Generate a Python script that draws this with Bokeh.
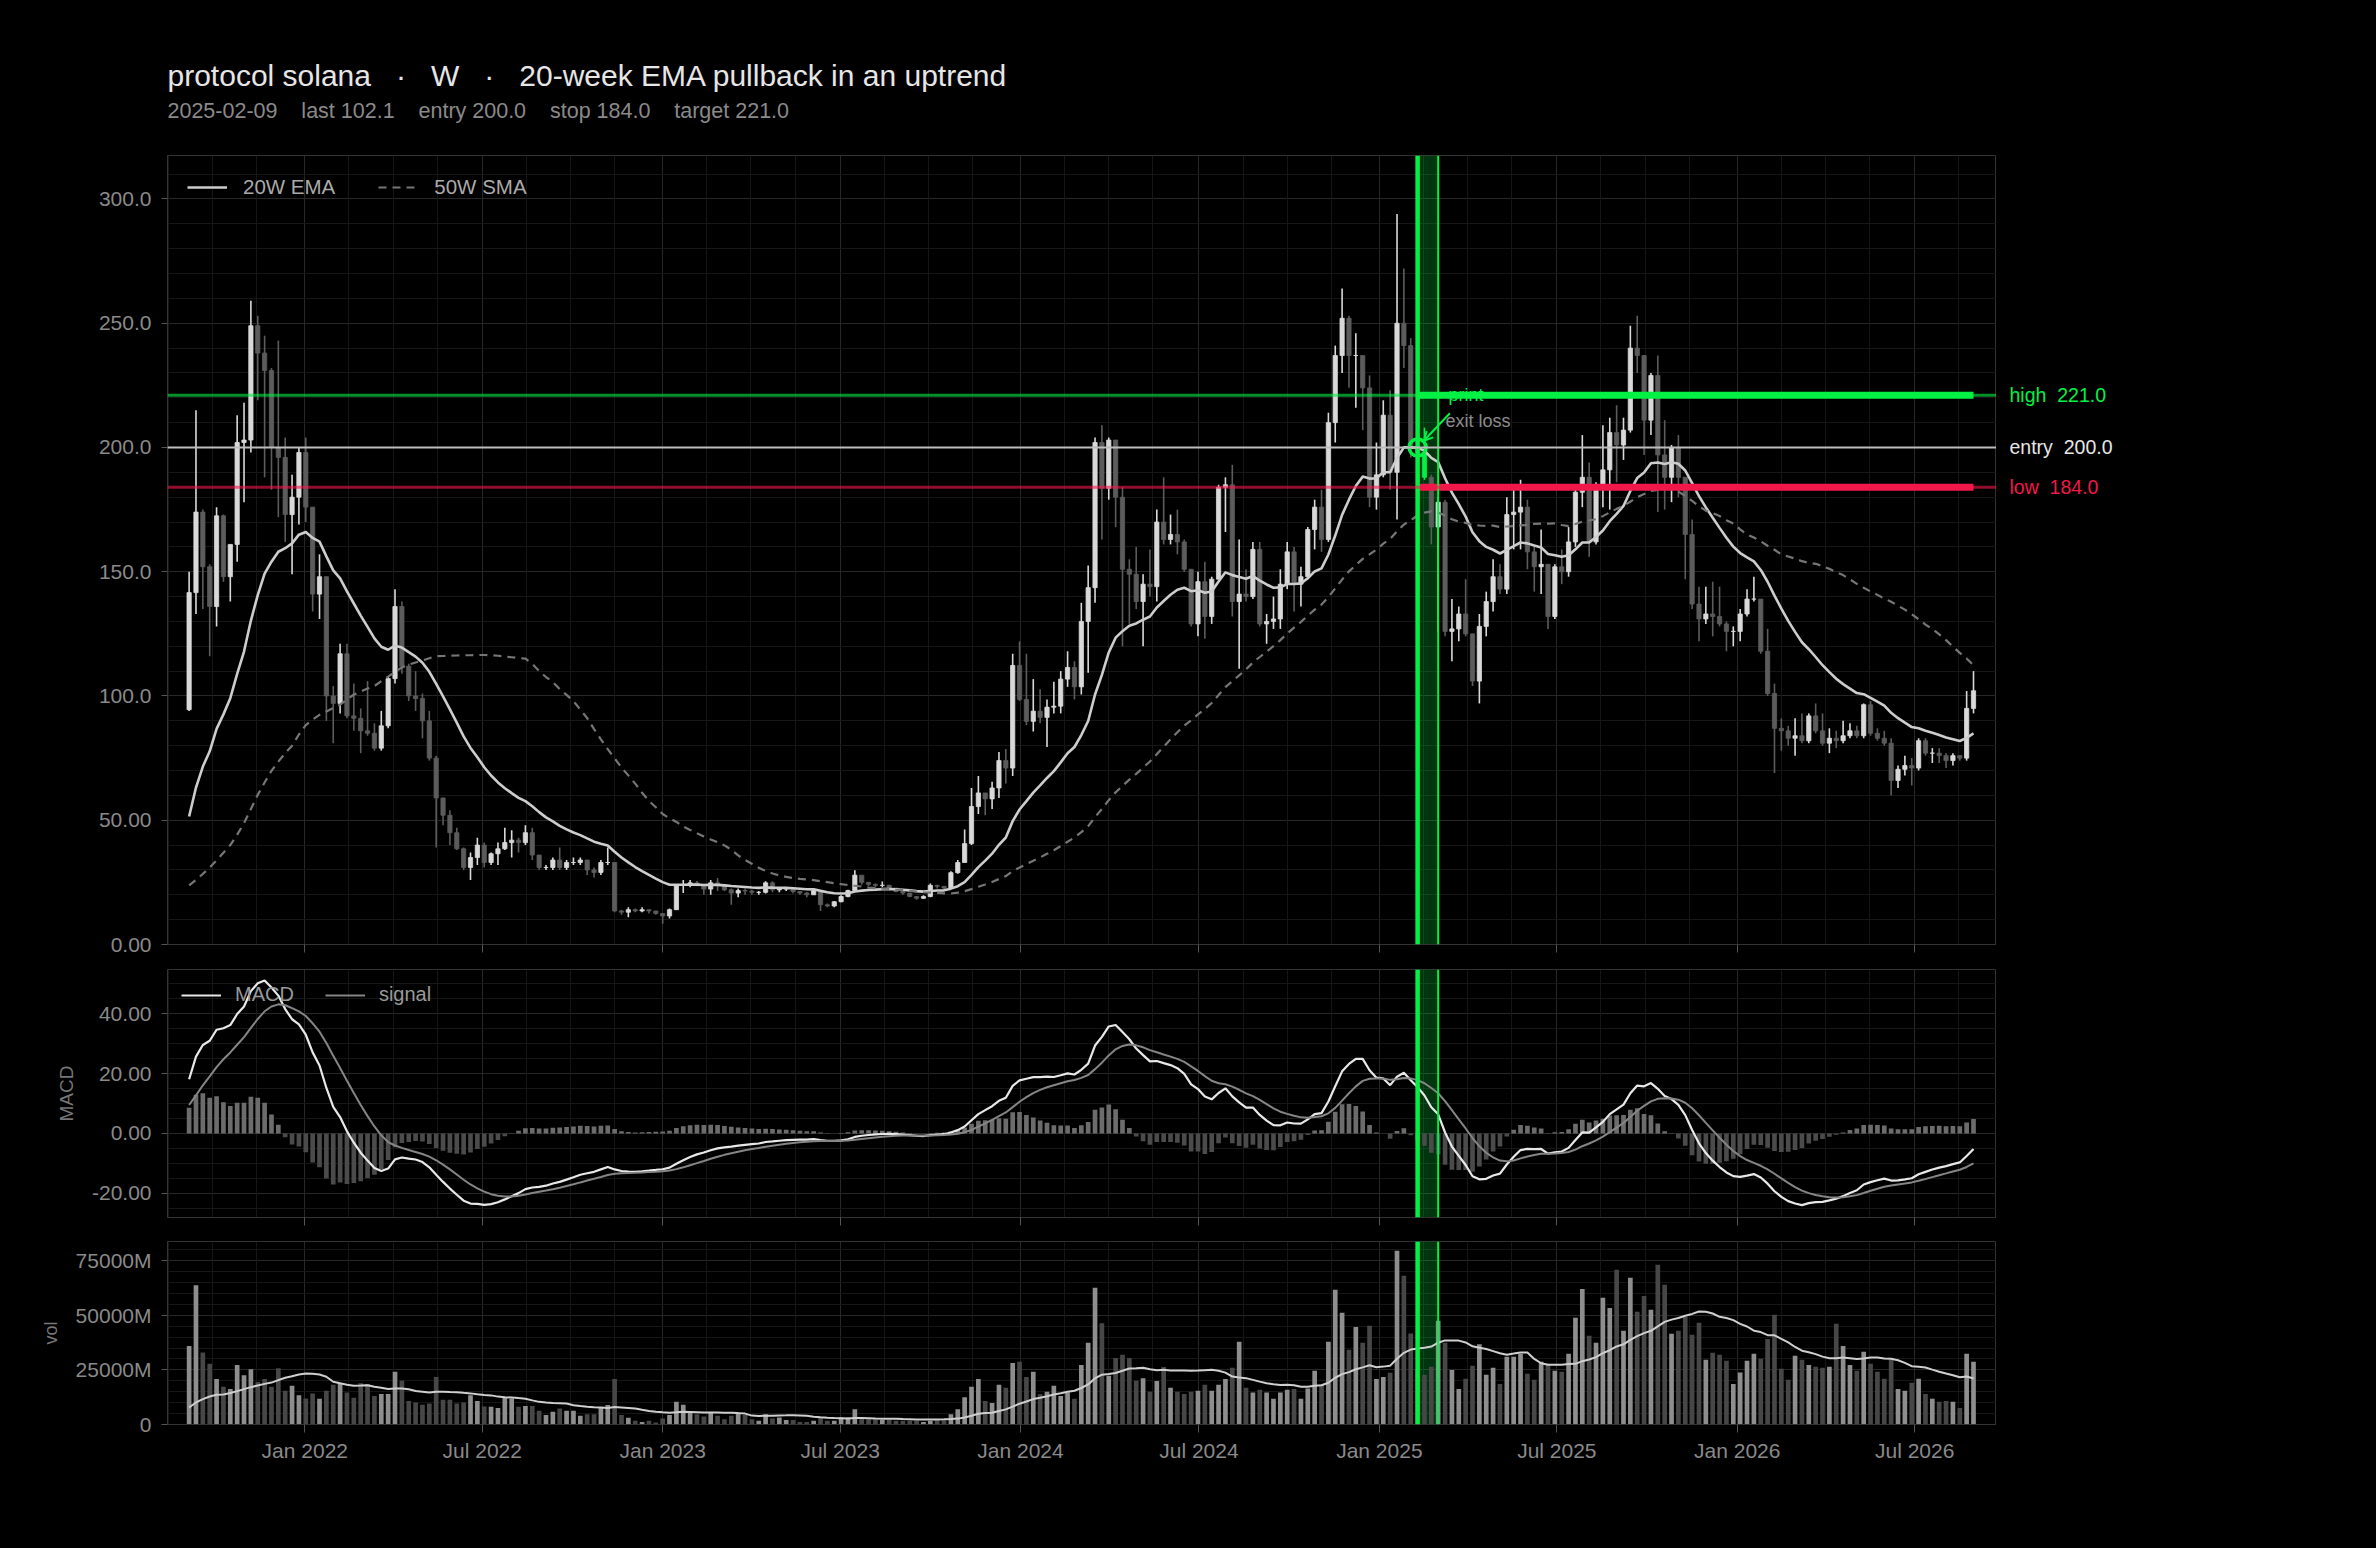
import numpy as np
import pandas as pd
from bokeh.plotting import figure
from bokeh.layouts import column, row
from bokeh.models import (Range1d, SingleIntervalTicker, MonthsTicker, DatetimeTickFormatter,
                          CustomJSTickFormatter, BoxAnnotation, Span, Label, Legend, LegendItem,
                          Arrow, OpenHead, GlobalInlineStyleSheet, Grid, FixedTicker)
from bokeh.core.properties import value
from bokeh.embed import file_html
from bokeh.resources import INLINE

# ---------------- data ----------------
week_start = "2021-09-05"
first_open = 94.5

close = [141.6, 174, 152, 136, 172.5, 148, 161, 202, 203, 249,
         238, 231, 200, 196, 173, 180, 198, 176, 141, 148,
         100, 97, 117, 92, 91, 86, 85, 79, 88, 107,
         136, 112, 100, 99, 90, 75, 59, 52, 45, 38.5,
         31, 35, 40, 33, 36.5, 38.5, 41, 42, 41, 45,
         36, 31, 31, 34, 31, 33, 33, 34, 30, 29,
         33, 33, 13.5, 13, 14, 13.5, 14, 13.5, 12.5, 11.5,
         14, 23.8, 24, 24.8, 24, 22.3, 24.8, 24, 22, 20.7,
         21.7, 21.5, 21, 21, 24.8, 22, 22.3, 22.5, 21.3, 20.7,
         20, 21.7, 16, 15.5, 17.2, 19.3, 21.7, 27.9, 25, 24.2,
         23.8, 23.8, 22.7, 21.3, 20.7, 19.3, 18.6, 19.3, 23.8, 23.4,
         22.7, 28.9, 33, 40.6, 55.5, 61, 58.6, 63, 74, 71,
         112.3, 98.6, 89.8, 93.9, 91.4, 95.5, 95.9, 106.8, 111.5, 103.7,
         130, 143.6, 202, 183.6, 203, 180, 151, 149, 138, 145,
         144, 170, 163, 165, 162, 151, 129, 146, 132, 147,
         184, 185, 138, 141, 140, 159, 129, 130, 131, 145,
         158, 145, 148, 167, 176, 163, 210, 237, 252, 237,
         237, 224, 180, 189, 213, 190, 250, 241, 200, 198,
         188, 168, 178, 126, 127, 133, 125, 106, 128, 138,
         148, 143, 173, 174, 176, 158, 152, 153, 132, 152,
         150, 162, 182, 188, 162, 185, 191, 206, 201, 207,
         240, 237, 211, 229, 197, 188, 200, 188, 165, 137,
         131, 133, 132, 129, 126, 126, 133, 139, 139, 118,
         101, 87, 86, 83, 84, 82, 92, 86, 81, 83,
         82, 84, 86, 84, 96.5, 85, 83, 81, 66, 70.5,
         72, 71, 82, 77, 77, 76, 74, 76, 75, 95,
         102.1]

high = [150, 215, 175, 153, 176, 173, 161, 213, 218, 259,
        253, 245, 232, 243, 204, 189, 200, 204, 176, 157,
        148, 104, 121, 121, 105, 95, 106, 89, 94, 108,
        143, 138, 113, 110, 101, 94, 76, 58, 54, 47,
        39, 37, 43, 41, 37, 41, 47, 46, 43, 48,
        47, 36, 32, 35, 39, 34, 35, 35, 33, 31,
        34, 39, 33, 14, 15, 14.5, 15, 14, 13.5, 12.5,
        14.5, 24.2, 26, 26, 25.6, 24, 26, 26.8, 24, 22.5,
        22.5, 22.5, 22, 21.5, 25.5, 25.5, 23, 23, 22.5, 21.5,
        21, 22.5, 21.5, 16.5, 17.5, 19.8, 22, 29.9, 27, 25,
        24.5, 25.4, 24, 22.5, 21.5, 20.5, 19.5, 19.8, 24.5, 24,
        23.5, 29.5, 34, 46.3, 63, 67.8, 61, 65.5, 77.5, 78.7,
        117, 122, 117, 106.8, 102.7, 98.6, 105.7, 110, 118, 114,
        137.5, 152.5, 204, 209, 204, 203, 184, 155, 160, 149,
        159, 175, 188, 173, 175, 163, 151, 150, 154, 148,
        185, 188, 193, 163, 151, 162, 162, 133, 140, 151,
        162, 160, 152, 168, 179, 183, 214, 241, 264, 253,
        246, 237, 229, 202, 219, 223, 294, 272, 244, 205,
        208, 189, 180, 179, 139, 136, 147, 125, 133, 142,
        155, 153, 180, 183, 187, 179, 160, 167, 153, 153,
        159, 168, 184, 205, 194, 186, 209, 212, 217, 212,
        249, 253, 237, 230, 237, 211, 201, 205, 188, 171,
        144, 144, 146, 144, 130, 128, 135, 143, 148, 138,
        127, 105, 91, 88, 91, 93, 93, 97, 93, 87,
        86, 90, 89, 88, 97, 98, 87, 86, 83, 72,
        76, 75, 83, 83, 79, 79, 77, 77, 76, 102,
        110]

low = [94, 133, 135, 116, 128, 146, 138, 154, 178, 198,
       219, 188, 183, 172, 162, 149, 169, 170, 134, 131,
       90, 81, 93, 91, 86, 77, 84, 78, 78, 87,
       105, 109, 98, 94, 83, 74, 39, 48, 40, 38,
       30, 26, 32, 31, 32, 32, 38, 35, 37, 40,
       34, 30, 30, 30, 30, 30, 32, 32, 28, 27,
       28, 32, 13, 12, 11, 13, 13, 12.5, 12, 8.4,
       10.5, 14, 20.7, 23, 23.4, 20, 20, 21.5, 21.5, 16,
       19, 20, 20, 20, 20.5, 21, 21, 21.5, 20.5, 20,
       19, 20, 13.5, 15, 15, 17, 19, 21.5, 24, 23.5,
       23, 23, 22, 21, 20, 19, 18, 18.3, 19, 22.5,
       22, 22.5, 28.5, 33, 40, 52.5, 52, 54.5, 59, 64.8,
       67.8, 98, 88.3, 85.7, 89, 79.5, 93, 93, 103.7, 98.6,
       100.6, 109.4, 137.5, 163, 179, 168, 120, 129, 135, 120,
       140, 138, 161, 161, 157, 150, 128, 124, 123, 129,
       147, 166, 132, 111, 138, 139, 128, 121, 127, 127,
       143, 134, 136, 147, 159, 158, 162, 202, 230, 224,
       216, 207, 176, 175, 188, 183, 171, 232, 196, 192,
       187, 161, 126, 124, 114, 122, 124, 104, 97, 124,
       134, 141, 141, 159, 159, 151, 142, 141, 127, 131,
       145, 148, 160, 176, 156, 161, 176, 175, 186, 195,
       206, 230, 197, 205, 174, 175, 178, 180, 147, 135,
       122, 129, 124, 128, 118, 120, 122, 132, 138, 117,
       100, 69, 78, 80, 76, 81, 81, 85, 80, 77,
       79, 81, 83, 83, 83, 84, 82, 80, 60, 63,
       68, 64, 70, 76, 73, 73, 71, 72, 74, 74,
       93]

volume_m = [36000, 63800, 33000, 27800, 20800, 17300, 16200, 27300, 22600, 25300,
            19500, 20800, 17300, 25800, 15400, 17700, 13400, 11900, 14200, 11800,
            15400, 18200, 18500, 14700, 12200, 18900, 18500, 13100, 14000, 14000,
            24100, 20000, 10800, 10100, 9000, 9600, 21800, 11300, 11300, 9600,
            10100, 13400, 10800, 8200, 8100, 7600, 12400, 11900, 8100, 8500,
            8500, 6300, 4400, 5800, 7300, 6300, 6300, 4000, 4700, 4700,
            7600, 8900, 20800, 4400, 3100, 1700, 1200, 1700, 900, 2700,
            4400, 10400, 9000, 5500, 4700, 3700, 5500, 4000, 2400, 4000,
            5200, 4400, 2400, 1700, 4700, 2700, 3200, 2100, 2100, 1200,
            1200, 1700, 3200, 1700, 1700, 3200, 3200, 7000, 2700, 2400,
            2400, 2100, 2100, 1700, 1700, 1700, 1700, 1200, 1700, 2000,
            2000, 4700, 7000, 12500, 17300, 20800, 10800, 9900, 18200, 16800,
            28200, 28700, 21800, 24100, 13900, 15000, 17700, 13100, 14700, 11800,
            27300, 37400, 62600, 46400, 22300, 30400, 31900, 30400, 20000, 21200,
            15000, 19900, 26300, 16800, 15000, 14000, 15000, 15400, 18200, 15400,
            18200, 20800, 26000, 37900, 16800, 14700, 15900, 14700, 11800, 14700,
            15900, 16300, 11800, 16500, 24600, 18300, 37900, 61700, 51200, 34200,
            44700, 37400, 45200, 20800, 21800, 23700, 79600, 68100, 41700, 25000,
            22800, 26400, 47500, 37400, 25000, 16300, 20900, 26900, 36800, 22800,
            26000, 18600, 31000, 31000, 32400, 23200, 20500, 28700, 27800, 24600,
            24100, 32400, 48900, 62100, 40600, 37400, 58000, 53400, 70900, 42900,
            67200, 51600, 58900, 52500, 73100, 64000, 41500, 42900, 49300, 41100,
            46600, 29600, 32800, 31900, 29200, 18600, 23800, 29200, 32400, 30100,
            39200, 50200, 25500, 20500, 31500, 29600, 27300, 26400, 26000, 26400,
            46100, 36000, 27300, 24600, 33300, 27800, 24100, 20900, 29600, 16300,
            15400, 19100, 20900, 14000, 11800, 10400, 10800, 10400, 7600, 32400,
            28700]

# indicator values visible before enough history exists
sma50_head = [23.8, 26.0, 28.4, 31.0, 33.9, 36.9, 40.0, 44.2, 48.8, 54.5,
              60.2, 65.2, 69.9, 73.6, 77.0, 80.0, 84.5, 88.3, 90.5, 92.4,
              93.8, 95.2, 96.5, 98.6, 100.6, 101.8, 103.0, 104.0, 106.0, 107.8,
              109.7, 111.5, 112.6, 113.5, 114.3, 115.2, 116.0, 116.1, 116.2, 116.3,
              116.4, 116.4, 116.5, 116.5, 116.4, 116.2, 115.9, 115.6, 115.3]
vol_ma_head = [7800, 10100, 11600, 12800, 13600, 13700, 14400, 15300, 16200, 17100,
               17900, 18600, 19200, 20300, 21400, 22100, 22900, 23400, 23200]
ema20_seed = 42.0
ema12_seed = 48.0
ema26_seed = 36.5
signal_seed = 7.35

signal_date = "2025-02-09"
band_weeks = 3
entry_px = 200.0
stop_px = 184.0
target_px = 221.0
last_px = 102.1

NB = "\u00a0"
title_text = "protocol solana " + NB + " \u00b7 " + NB + " W " + NB + " \u00b7 " + NB + " 20-week EMA pullback in an uptrend"
sub_sep = " " + NB + NB + " "
subtitle_text = sub_sep.join([signal_date, "last %.1f" % last_px, "entry %.1f" % entry_px,
                              "stop %.1f" % stop_px, "target %.1f" % target_px])

# ---------------- derived series ----------------
n = len(close)
dates = pd.date_range(week_start, periods=n, freq="7D")
opens = [first_open] + close[:-1]
c = np.array(close, dtype=float)
vol = np.array(volume_m, dtype=float)


def ema(vals, span, seed):
    a = 2.0 / (span + 1)
    e = seed
    out = []
    for v in vals:
        e = e + a * (v - e)
        out.append(e)
    return np.array(out)


ema20 = ema(c, 20, ema20_seed)
sma50 = np.array(sma50_head + [c[i - 49:i + 1].mean() for i in range(len(sma50_head), n)])
vol_ma = np.array(vol_ma_head + [vol[i - 19:i + 1].mean() for i in range(len(vol_ma_head), n)])
macd = ema(c, 12, ema12_seed) - ema(c, 26, ema26_seed)
sig = ema(macd, 9, signal_seed)
hist = macd - sig

FONT = "Liberation Sans"
GREEN = "#05f044"
RED = "#f2184a"
UP = "#d9d9d9"
DOWN = "#5c5c5c"
BG = "#000000"


def ms(ts):
    return pd.Timestamp(ts).value / 1e6


WEEK_MS = 7 * 86400000.0
t_sig = ms(signal_date)
date_ms = np.array([ms(d) for d in dates])
sig_idx = int(np.argmin(np.abs(date_ms - t_sig)))
hl_idx = sig_idx + 1
t_band_end = t_sig + band_weeks * WEEK_MS
t_last = ms(dates[-1])

x_start = ms(dates[0]) - 3.15 * WEEK_MS
x_end = t_last + 3.35 * WEEK_MS
xr = Range1d(start=x_start, end=x_end)

up = [cl >= op for cl, op in zip(close, opens)]
ccol = [GREEN if i == hl_idx else (UP if up[i] else DOWN) for i in range(n)]
vcol = ["#8e8e8e" if u else "#474747" for u in up]
hcol = ["#6c6c6c" if h >= 0 else "#4b4b4b" for h in hist]

# minor vertical grid: 4 divisions of each half-year
minor_x = []
for yr in range(2021, 2027):
    for mo in (1, 7):
        base = pd.Timestamp(year=yr, month=mo, day=1)
        for k in (1, 2, 3):
            minor_x.append(ms(base + pd.Timedelta(days=45 * k)))

TICK_CLR = "#8a8a8a"
TICK_FS = "21px"
LEFT = 167
FRAME_W = 1829
SIDE_W = 370


def make_fig(frame_h, yr, top, bottom, show_x_labels):
    p = figure(x_axis_type="datetime", x_range=xr, y_range=yr, frame_width=FRAME_W, frame_height=frame_h,
               min_border_left=LEFT, min_border_right=0, min_border_top=top, min_border_bottom=bottom,
               output_backend="svg", toolbar_location=None, background_fill_color=BG,
               border_fill_color=BG, outline_line_color="#333333")
    tk = MonthsTicker(months=[0, 6])
    p.xaxis.ticker = tk
    p.xgrid.ticker = tk
    p.xaxis.formatter = DatetimeTickFormatter(months="%b %Y", years="%b %Y", days="%b %Y")
    for ax in (p.xaxis, p.yaxis):
        ax.axis_line_color = "#333333"
        ax.major_tick_line_color = "#555555"
        ax.minor_tick_line_color = None
        ax.major_tick_in = 0
        ax.major_label_text_color = TICK_CLR
        ax.major_label_text_font = FONT
        ax.major_label_text_font_size = TICK_FS
        ax.axis_label_text_font = FONT
        ax.axis_label_text_font_style = "normal"
        ax.axis_label_text_color = "#777777"
    p.xaxis.major_tick_out = 8
    p.yaxis.major_tick_out = 6
    p.yaxis.major_label_standoff = 10
    if show_x_labels:
        p.xaxis.major_label_standoff = 6
    else:
        p.xaxis.formatter = CustomJSTickFormatter(code="return '';")
        p.xaxis.major_label_text_color = None
        p.xaxis.major_label_standoff = 0
    for g in (p.xgrid, p.ygrid):
        g.grid_line_color = "#272727"
        g.minor_grid_line_color = "#161616"
    p.add_layout(Grid(dimension=0, ticker=FixedTicker(ticks=minor_x), grid_line_color="#161616"))
    # signal band
    p.add_layout(BoxAnnotation(left=t_sig, right=t_band_end, fill_color=GREEN, fill_alpha=0.22,
                               line_alpha=0, level="underlay"))
    p.add_layout(Span(location=t_band_end, dimension="height", line_color=GREEN, line_width=2))
    p.add_layout(Span(location=t_sig, dimension="height", line_color=GREEN, line_width=4.5))
    return p


body_w = WEEK_MS * 0.62
bar_w = WEEK_MS * 0.68

# ---------------- header (title / subtitle), coordinates in page pixels ----------------
HEAD_H = 140
HEAD_TOP = 15
head = figure(x_range=Range1d(LEFT, LEFT + FRAME_W), y_range=Range1d(HEAD_H, HEAD_TOP),
              frame_width=FRAME_W, frame_height=HEAD_H - HEAD_TOP,
              min_border_left=LEFT, min_border_right=SIDE_W, min_border_top=HEAD_TOP, min_border_bottom=0,
              x_axis_location=None, y_axis_location=None,
              output_backend="svg", toolbar_location=None, background_fill_color=BG,
              border_fill_color=BG, outline_line_color=None)
head.xgrid.visible = False
head.ygrid.visible = False
head.text(x=[LEFT], y=[75], text=[title_text], text_color="#e6e6e6", text_font=value(FONT),
          text_font_size=value("30px"), text_baseline="alphabetic", text_align="left")
head.text(x=[LEFT], y=[110], text=[subtitle_text], text_color="#8a8a8a", text_font=value(FONT),
          text_font_size=value("21.5px"), text_baseline="alphabetic", text_align="left")

# ---------------- main price panel ----------------
y_top = 317.5
MAIN_TOP = 155 - HEAD_H
p1 = make_fig(789, Range1d(0, y_top), MAIN_TOP, 12, False)
ytk = SingleIntervalTicker(interval=50, num_minor_ticks=5)
p1.yaxis.ticker = ytk
p1.ygrid.ticker = ytk
p1.yaxis.formatter = CustomJSTickFormatter(code="return tick == 0 ? '0.00' : tick.toPrecision(4);")

p1.segment(x0=dates, y0=low, x1=dates, y1=high, line_color=ccol, line_width=1.6)
p1.vbar(x=dates, width=body_w, top=np.maximum(c, opens), bottom=np.minimum(c, opens),
        fill_color=ccol, line_color=ccol, line_width=0.8)

for yv, colr, alpha, w in ((target_px, GREEN, 0.6, 3), (entry_px, "#bdbdbd", 1.0, 2), (stop_px, RED, 0.6, 3)):
    p1.add_layout(Span(location=yv, dimension="width", line_color=colr, line_alpha=alpha, line_width=w))

r_ema = p1.line(dates, ema20, line_color="#cdcdcd", line_width=2.6)
r_sma = p1.line(dates, sma50, line_color="#767676", line_width=2.2, line_dash="8 6")

p1.segment(x0=[t_sig, t_sig], y0=[target_px, stop_px], x1=[t_last, t_last], y1=[target_px, stop_px],
           line_color=[GREEN, RED], line_width=7)

p1.scatter(x=[t_sig], y=[entry_px], size=17, marker="circle", fill_color=None,
           line_color=GREEN, line_width=3.5)
p1.add_layout(Arrow(end=OpenHead(size=9, line_color=GREEN, line_width=2),
                    x_start=t_sig + 4.7 * WEEK_MS, y_start=213.8,
                    x_end=t_sig + 0.9 * WEEK_MS, y_end=202.7,
                    line_color=GREEN, line_width=2))

p1.add_layout(Label(x=t_sig, y=target_px, x_offset=31, text="print", text_color=GREEN,
                    text_font=FONT, text_font_size="18px", text_baseline="middle"))
p1.add_layout(Label(x=t_sig, y=210.5, x_offset=28, text="exit loss", text_color="#8c8c8c",
                    text_font=FONT, text_font_size="18px", text_baseline="middle"))

leg1 = Legend(items=[LegendItem(label="20W EMA", renderers=[r_ema]),
                     LegendItem(label="50W SMA", renderers=[r_sma])],
              location="top_left", orientation="horizontal", background_fill_alpha=0,
              border_line_alpha=0, label_text_color="#aaaaaa", label_text_font=FONT,
              label_text_font_size="20.5px", glyph_width=40, glyph_height=20, spacing=43,
              label_standoff=16, margin=10, padding=10)
p1.add_layout(leg1)

# right-hand level labels, in a strip sharing the price scale
side = figure(x_range=Range1d(0, SIDE_W), y_range=p1.y_range,
              frame_width=SIDE_W, frame_height=789, min_border_left=0, min_border_right=0,
              min_border_top=MAIN_TOP, min_border_bottom=12, x_axis_location=None, y_axis_location=None,
              output_backend="svg", toolbar_location=None, background_fill_color=BG,
              border_fill_color=BG, outline_line_color=None)
side.xgrid.visible = False
side.ygrid.visible = False
side.text(x=[13, 13, 13], y=[target_px, entry_px, stop_px],
          text=["high " + NB + "%.1f" % target_px, "entry " + NB + "%.1f" % entry_px,
                "low " + NB + "%.1f" % stop_px],
          text_color=[GREEN, "#e6e6e6", RED], text_font=value(FONT), text_font_size=value("19.5px"),
          text_baseline="middle", text_align="left")

# ---------------- MACD panel ----------------
p2 = make_fig(248, Range1d(-28.1, 54.8), 13, 12, False)
mtk = SingleIntervalTicker(interval=20, num_minor_ticks=4)
p2.yaxis.ticker = mtk
p2.ygrid.ticker = mtk
p2.yaxis.formatter = CustomJSTickFormatter(code="return tick == 0 ? '0.00' : tick.toPrecision(4);")
p2.yaxis.axis_label = "MACD"
p2.yaxis.axis_label_text_font_size = "19px"
p2.yaxis.axis_label_standoff = 12
p2.vbar(x=dates, width=bar_w, top=hist, bottom=0, fill_color=hcol, line_color=None)
r_macd = p2.line(dates, macd, line_color="#e8e8e8", line_width=2.2)
r_sig = p2.line(dates, sig, line_color="#858585", line_width=2)
leg2 = Legend(items=[LegendItem(label="MACD", renderers=[r_macd]),
                     LegendItem(label="signal", renderers=[r_sig])],
              location="top_left", orientation="horizontal", background_fill_alpha=0,
              border_line_alpha=0, label_text_color="#999999", label_text_font=FONT,
              label_text_font_size="20px", glyph_width=40, glyph_height=20, spacing=31,
              label_standoff=14, margin=7, padding=7)
p2.add_layout(leg2)

# ---------------- volume panel ----------------
p3 = make_fig(183, Range1d(0, 83800), 12, 70, True)
vtk = SingleIntervalTicker(interval=25000, num_minor_ticks=5)
p3.yaxis.ticker = vtk
p3.ygrid.ticker = vtk
p3.yaxis.formatter = CustomJSTickFormatter(code="return tick == 0 ? '0' : tick.toFixed(0) + 'M';")
p3.yaxis.axis_label = "vol"
p3.yaxis.axis_label_text_font_size = "18px"
p3.yaxis.axis_label_standoff = 12
p3.vbar(x=dates, width=bar_w, top=vol, bottom=0, fill_color=vcol, line_color=None)
p3.line(dates, vol_ma, line_color="#cfcfcf", line_width=2)

layout = column(head, row(p1, side, spacing=0), p2, p3, spacing=0)
layout.stylesheets = [GlobalInlineStyleSheet(css="html, body { background-color: #000000; }")]

open("out.html", "w").write(file_html(layout, INLINE))
